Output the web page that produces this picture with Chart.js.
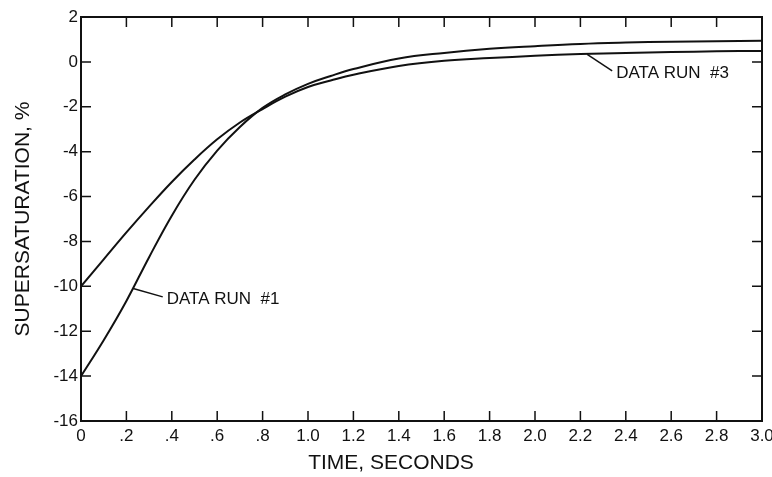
<!DOCTYPE html>
<html>
<head>
<meta charset="utf-8">
<script src="https://cdn.jsdelivr.net/npm/chart.js@4.4.0/dist/chart.umd.min.js"></script>
<style>
  html, body { margin: 0; padding: 0; background: #fff; }
  #wrap { width: 772px; height: 477px; }
</style>
</head>
<body>
<div id="wrap"><canvas id="chart"></canvas></div>
<script>
// time, seconds
const timeSec = [0, 0.1, 0.2, 0.3, 0.4, 0.5, 0.6, 0.7, 0.8, 0.9, 1.0, 1.1, 1.2, 1.4, 1.6, 1.8, 2.0, 2.2, 2.4, 2.6, 2.8, 3.0];
// supersaturation, %
const run1 = [-14.0, -12.4, -10.65, -8.7, -6.85, -5.25, -3.95, -2.9, -2.05, -1.45, -0.98, -0.63, -0.32, 0.15, 0.4, 0.58, 0.7, 0.8, 0.86, 0.9, 0.92, 0.94];
const run3 = [-10.0, -8.8, -7.6, -6.45, -5.35, -4.35, -3.45, -2.7, -2.1, -1.55, -1.12, -0.83, -0.57, -0.18, 0.05, 0.17, 0.27, 0.35, 0.4, 0.44, 0.47, 0.49];

const xTicks = [0, 0.2, 0.4, 0.6, 0.8, 1.0, 1.2, 1.4, 1.6, 1.8, 2.0, 2.2, 2.4, 2.6, 2.8, 3.0];
const yTicks = [-16, -14, -12, -10, -8, -6, -4, -2, 0, 2];

const ink = '#111';
const font = "'Liberation Sans', Arial, sans-serif";

// leader-line labels, anchored in data units
const notes = [
  { text: 'DATA RUN  #1', from: [0.23, -10.1], to: [0.36, -10.47] },
  { text: 'DATA RUN  #3', from: [2.23, 0.33], to: [2.34, -0.4] }
];

const fmtX = v => {
  if (v === 0) return '0';
  const s = v.toFixed(1);
  return v < 1 ? s.slice(1) : s;
};

const frame = {
  id: 'frame',
  afterDatasetsDraw(chart) {
    const { ctx, chartArea: a, scales: { x, y } } = chart;
    ctx.save();
    ctx.strokeStyle = ink;
    ctx.lineWidth = 2;
    ctx.strokeRect(a.left, a.top, a.right - a.left, a.bottom - a.top);

    // inward tick marks on all four sides
    ctx.lineWidth = 1.5;
    ctx.beginPath();
    xTicks.forEach(v => {
      const px = x.getPixelForValue(v);
      ctx.moveTo(px, a.top); ctx.lineTo(px, a.top + 10);
      ctx.moveTo(px, a.bottom); ctx.lineTo(px, a.bottom - 10);
    });
    yTicks.forEach(v => {
      const py = y.getPixelForValue(v);
      ctx.moveTo(a.left, py); ctx.lineTo(a.left + 10, py);
      ctx.moveTo(a.right, py); ctx.lineTo(a.right - 10, py);
    });
    ctx.stroke();

    // curve labels
    ctx.fillStyle = ink;
    ctx.font = '17px ' + font;
    ctx.textBaseline = 'middle';
    ctx.textAlign = 'left';
    notes.forEach(n => {
      const x0 = x.getPixelForValue(n.from[0]), y0 = y.getPixelForValue(n.from[1]);
      const x1 = x.getPixelForValue(n.to[0]), y1 = y.getPixelForValue(n.to[1]);
      ctx.beginPath();
      ctx.moveTo(x0, y0); ctx.lineTo(x1, y1);
      ctx.stroke();
      ctx.fillText(n.text, x1 + 4, y1 + 2);
    });

    // x axis title
    ctx.font = '21px ' + font;
    ctx.textAlign = 'center';
    ctx.fillText('TIME, SECONDS', 391, 463);
    ctx.restore();
  }
};

new Chart(document.getElementById('chart'), {
  type: 'line',
  data: {
    datasets: [
      {
        label: 'Data run #1',
        data: timeSec.map((t, i) => ({ x: t, y: run1[i] })),
        borderColor: ink,
        borderWidth: 2,
        pointRadius: 0,
        tension: 0.4
      },
      {
        label: 'Data run #3',
        data: timeSec.map((t, i) => ({ x: t, y: run3[i] })),
        borderColor: ink,
        borderWidth: 2,
        pointRadius: 0,
        tension: 0.4
      }
    ]
  },
  options: {
    responsive: true,
    maintainAspectRatio: false,
    animation: false,
    layout: { padding: { top: 17, right: 10, left: 0, bottom: 0 } },
    plugins: { legend: { display: false }, tooltip: { enabled: false } },
    scales: {
      x: {
        type: 'linear',
        min: 0,
        max: 3,
        afterBuildTicks: s => { s.ticks = xTicks.map(v => ({ value: v })); },
        afterFit: s => { s.height = 56; s.paddingLeft = 0; s.paddingRight = 0; },
        grid: { display: false, drawTicks: false },
        border: { display: false },
        ticks: {
          autoSkip: false,
          maxRotation: 0,
          padding: 5,
          color: ink,
          font: { family: font, size: 17 },
          callback: v => fmtX(v)
        }
      },
      y: {
        type: 'linear',
        min: -16,
        max: 2,
        afterBuildTicks: s => { s.ticks = yTicks.map(v => ({ value: v })); },
        afterFit: s => { s.width = 81; s.paddingTop = 0; s.paddingBottom = 0; },
        grid: { display: false, drawTicks: false },
        border: { display: false },
        title: {
          display: true,
          text: 'SUPERSATURATION, %',
          color: ink,
          font: { family: font, size: 21 },
          padding: { top: 11, bottom: 0 }
        },
        ticks: {
          padding: 3,
          color: ink,
          font: { family: font, size: 17 },
          callback: v => String(v)
        }
      }
    }
  },
  plugins: [frame]
});
</script>
</body>
</html>
